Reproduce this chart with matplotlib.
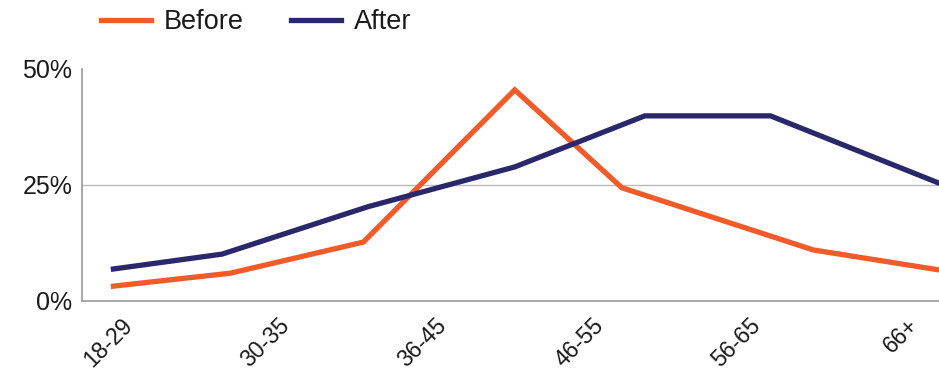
import matplotlib
matplotlib.use("Agg")
import matplotlib.pyplot as plt

plt.rcParams['font.family'] = ['Liberation Sans', 'DejaVu Sans']

# Data (x in an age-like scale; y in percent)
age_labels = ["18-29", "30-35", "36-45", "46-55", "56-65", "66+"]
age_ticks = [17.7, 28.7, 39.7, 50.7, 61.7, 72.7]

before_x = [17.2, 25.4, 34.7, 45.3, 52.8, 66.2, 75.0]
before_y = [3.2, 6.0, 12.7, 45.5, 24.4, 11.0, 6.7]

after_x = [17.2, 24.8, 35.0, 45.3, 54.4, 63.2, 75.0]
after_y = [6.9, 10.1, 20.3, 28.9, 39.9, 39.9, 25.4]

y_ticks = [0, 25, 50]
y_labels = ["0%", "25%", "50%"]

ORANGE = "#F15A29"
NAVY = "#2A286A"

fig = plt.figure(figsize=(9.39, 3.75), dpi=100)
ax = fig.add_axes([82/939, 1 - 301/375, 1 - 82/939, (301 - 69)/375])

l1, = ax.plot(before_x, before_y, color=ORANGE, lw=3.8, solid_joinstyle='miter', label="Before")
l2, = ax.plot(after_x, after_y, color=NAVY, lw=3.8, solid_joinstyle='miter', label="After")

ax.set_xlim(15, 75)
ax.set_ylim(0, 50)
ax.set_yticks(y_ticks)
ax.set_yticklabels(y_labels, fontsize=18, color="#1a1a1a")
ax.set_xticks(age_ticks)
ax.set_xticklabels(age_labels, fontsize=16.5, rotation=45, ha='right',
                   rotation_mode='anchor', color="#1a1a1a")
ax.tick_params(length=0, pad=7)
ax.tick_params(axis='x', pad=9)

ax.axhline(25, color="#BBBBBB", lw=1.0, zorder=0)
for s in ['top', 'right']:
    ax.spines[s].set_visible(False)
for s in ['left', 'bottom']:
    ax.spines[s].set_color("#9A9A9A")
    ax.spines[s].set_linewidth(1.2)

fig.legend(handles=[l1, l2], loc='center left', bbox_to_anchor=(101/939, 1 - 22/375),
           ncol=2, frameon=False, fontsize=19.5, handlelength=1.85, handletextpad=0.48,
           columnspacing=1.74, borderpad=0, borderaxespad=0, labelcolor="#1a1a1a")

fig.savefig("out.png", dpi=100)
